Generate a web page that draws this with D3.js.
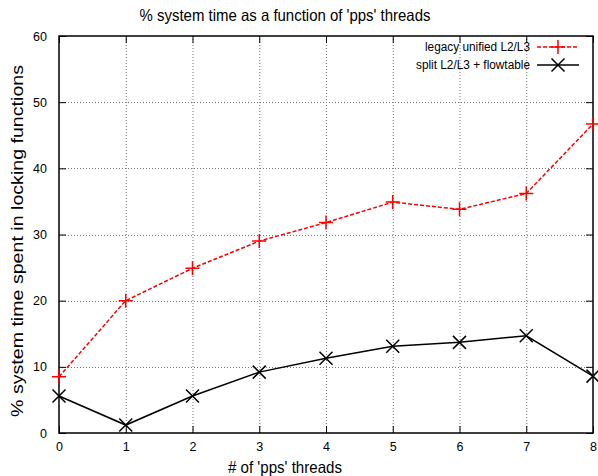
<!DOCTYPE html>
<html>
<head>
<meta charset="utf-8">
<script src="https://cdn.jsdelivr.net/npm/d3@7"></script>
<style>
  body { margin: 0; background: #fff; }
  text { font-family: "Liberation Sans", Arial, sans-serif; fill: #000; }
</style>
</head>
<body>
<div id="canvas"></div>
<script>
/*
Number of 'pps' threads on the x axis */
var threads = [0, 1, 2, 3, 4, 5, 6, 7, 8];
/*
% system time in locking functions, one list per series */
var legacy_values = [8.5, 20.0, 24.9, 29.0, 31.8, 34.9, 33.8, 36.2, 46.7];
var split_values = [5.6, 1.2, 5.6, 9.2, 11.3, 13.1, 13.7, 14.7, 8.6];
/*
Tick labels */
var x_ticks = [0, 1, 2, 3, 4, 5, 6, 7, 8];
var y_ticks = [0, 10, 20, 30, 40, 50, 60];
var series_names = ["legacy unified L2/L3", "split L2/L3 + flowtable"];

var width = 598, height = 476;
var margin = {top: 36, right: 5, bottom: 43, left: 59};

var svg = d3.select("#canvas").append("svg")
    .attr("width", width)
    .attr("height", height);

var x = d3.scaleLinear().domain([0, 8]).range([margin.left, width - margin.right]);
var y = d3.scaleLinear().domain([0, 60]).range([height - margin.bottom, margin.top]);

// grid
var grid = svg.append("g")
    .attr("stroke", "#777")
    .attr("stroke-width", 1)
    .attr("stroke-dasharray", "1,2");
grid.selectAll(".gx").data(x_ticks.slice(1, -1)).enter().append("line")
    .attr("x1", d => x(d) + 0.5).attr("x2", d => x(d) + 0.5)
    .attr("y1", y(60)).attr("y2", y(0));
grid.selectAll(".gy").data(y_ticks.slice(1, -1)).enter().append("line")
    .attr("y1", d => Math.round(y(d)) + 0.5).attr("y2", d => Math.round(y(d)) + 0.5)
    .attr("x1", x(0)).attr("x2", x(8));

// axes, ticks pointing in, mirrored
svg.append("g")
    .attr("transform", "translate(0," + y(0) + ")")
    .call(d3.axisBottom(x).tickValues(x_ticks).tickSize(-7).tickPadding(9).tickFormat(d3.format("d")))
    .call(g => g.select(".domain").remove());
svg.append("g")
    .attr("transform", "translate(0," + y(60) + ")")
    .call(d3.axisTop(x).tickValues(x_ticks).tickSize(-7).tickFormat(""))
    .call(g => g.select(".domain").remove());
svg.append("g")
    .attr("transform", "translate(" + x(0) + ",0)")
    .call(d3.axisLeft(y).tickValues(y_ticks).tickSize(-7).tickPadding(12).tickFormat(d3.format("d")))
    .call(g => g.select(".domain").remove());
svg.append("g")
    .attr("transform", "translate(" + x(8) + ",0)")
    .call(d3.axisRight(y).tickValues(y_ticks).tickSize(-7).tickFormat(""))
    .call(g => g.select(".domain").remove());

svg.selectAll(".tick text")
    .style("font-family", "'Liberation Sans', Arial, sans-serif")
    .style("font-size", "12.5px");
svg.selectAll(".tick line").attr("stroke", "#000").attr("stroke-width", 1);

// border
svg.append("rect")
    .attr("x", x(0)).attr("y", y(60))
    .attr("width", x(8) - x(0)).attr("height", y(0) - y(60))
    .attr("fill", "none").attr("stroke", "#000").attr("stroke-width", 1.5);

var line = d3.line().x((d, i) => x(threads[i])).y(d => y(d));

function draw_plus(g, cx, cy, s, color) {
    g.append("path")
        .attr("d", "M" + (cx - s) + "," + cy + "H" + (cx + s) + "M" + cx + "," + (cy - s) + "V" + (cy + s))
        .attr("stroke", color).attr("stroke-width", 1.5).attr("fill", "none");
}
function draw_cross(g, cx, cy, s, color) {
    g.append("path")
        .attr("d", "M" + (cx - s) + "," + (cy - s) + "L" + (cx + s) + "," + (cy + s) +
                   "M" + (cx - s) + "," + (cy + s) + "L" + (cx + s) + "," + (cy - s))
        .attr("stroke", color).attr("stroke-width", 1.5).attr("fill", "none");
}

// legacy series: red dashed with +
svg.append("path").datum(legacy_values)
    .attr("d", line)
    .attr("fill", "none").attr("stroke", "#ff0000")
    .attr("stroke-width", 1.5).attr("stroke-dasharray", "4,2");
var marks = svg.append("g");
legacy_values.forEach(function(v, i) { draw_plus(marks, x(threads[i]), y(v), 7, "#ff0000"); });

// split series: black solid with x
svg.append("path").datum(split_values)
    .attr("d", line)
    .attr("fill", "none").attr("stroke", "#000")
    .attr("stroke-width", 1.5);
split_values.forEach(function(v, i) { draw_cross(marks, x(threads[i]), y(v), 6.5, "#000"); });

// legend
var legend = svg.append("g");
var ly = [47, 65];
legend.append("text").attr("x", 530).attr("y", ly[0]).attr("dy", "0.35em")
    .attr("text-anchor", "end").style("font-size", "12.5px")
    .attr("textLength", 105).attr("lengthAdjust", "spacingAndGlyphs")
    .text(series_names[0]);
legend.append("line").attr("x1", 537).attr("x2", 579).attr("y1", ly[0]).attr("y2", ly[0])
    .attr("stroke", "#ff0000").attr("stroke-width", 1.5).attr("stroke-dasharray", "4,2");
draw_plus(legend, 558, ly[0], 7, "#ff0000");
legend.append("text").attr("x", 530).attr("y", ly[1]).attr("dy", "0.35em")
    .attr("text-anchor", "end").style("font-size", "12.5px")
    .attr("textLength", 114).attr("lengthAdjust", "spacingAndGlyphs")
    .text(series_names[1]);
legend.append("line").attr("x1", 537).attr("x2", 579).attr("y1", ly[1]).attr("y2", ly[1])
    .attr("stroke", "#000").attr("stroke-width", 1.5);
draw_cross(legend, 558, ly[1], 6.5, "#000");

// titles
svg.append("text").attr("x", 285).attr("y", 21)
    .attr("text-anchor", "middle").style("font-size", "16.5px")
    .attr("textLength", 291).attr("lengthAdjust", "spacingAndGlyphs")
    .text("% system time as a function of 'pps' threads");
svg.append("text").attr("x", 285).attr("y", 473)
    .attr("text-anchor", "middle").style("font-size", "16.5px")
    .attr("textLength", 114).attr("lengthAdjust", "spacingAndGlyphs")
    .text("# of 'pps' threads");
svg.append("text")
    .attr("transform", "translate(23,241) rotate(-90)")
    .attr("text-anchor", "middle").style("font-size", "17px")
    .attr("textLength", 352).attr("lengthAdjust", "spacingAndGlyphs")
    .text("% system time spent in locking functions");
</script>
</body>
</html>
